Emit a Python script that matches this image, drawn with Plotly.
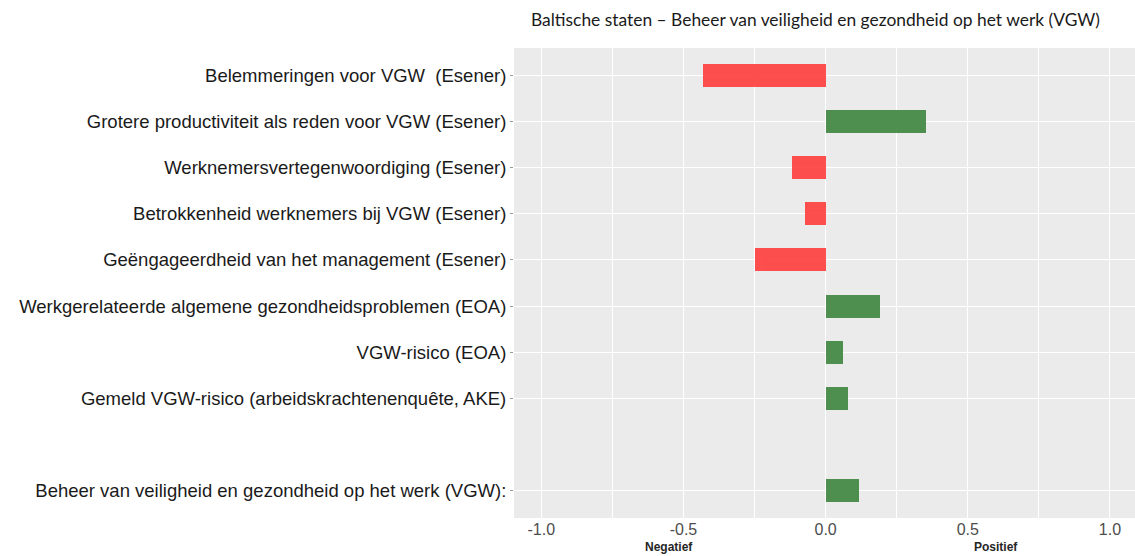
import plotly.graph_objects as go

# Categories from top to bottom; None marks the empty gap row
categories = [
    "Belemmeringen voor VGW  (Esener)",
    "Grotere productiviteit als reden voor VGW (Esener)",
    "Werknemersvertegenwoordiging (Esener)",
    "Betrokkenheid werknemers bij VGW (Esener)",
    "Geëngageerdheid van het management (Esener)",
    "Werkgerelateerde algemene gezondheidsproblemen (EOA)",
    "VGW-risico (EOA)",
    "Gemeld VGW-risico (arbeidskrachtenenquête, AKE)",
    None,
    "Beheer van veiligheid en gezondheid op het werk (VGW):",
]
values = [-0.431, 0.352, -0.118, -0.073, -0.249, 0.192, 0.062, 0.077, None, 0.118]

x_ticks = [-1.0, -0.5, 0.0, 0.5, 1.0]
x_tick_labels = ["-1.0", "-0.5", "0.0", "0.5", "1.0"]

title_text = "Baltische staten – Beheer van veiligheid en gezondheid op het werk (VGW)"
neg_label = "Negatief"
pos_label = "Positief"

RED = "#FF4646"
GREEN = "#468A46"

n = len(categories)
ys, xs, cols, labels = [], [], [], []
for i, (c, v) in enumerate(zip(categories, values)):
    pos = n - 1 - i
    if c is None:
        continue
    ys.append(pos)
    xs.append(v)
    labels.append(c)
    cols.append(RED if v < 0 else GREEN)

fig = go.Figure(
    go.Bar(
        x=xs,
        y=ys,
        orientation="h",
        width=0.5,
        marker=dict(color=cols, line=dict(width=0)),
        opacity=0.95,
        hoverinfo="x+y",
    )
)

L, R, T, B = 514, 0, 48, 38
W, H = 1135, 556
plot_w = W - L - R
plot_h = H - T - B

fig.update_layout(
    width=W,
    height=H,
    margin=dict(l=L, r=R, t=T, b=B, autoexpand=False),
    paper_bgcolor="white",
    plot_bgcolor="#EBEBEB",
    showlegend=False,
    bargap=0,
)
fig.add_annotation(
    text=title_text, xref="paper", yref="paper",
    x=(815 - L) / plot_w, y=1 + (T - 19) / plot_h,
    showarrow=False, xanchor="center", yanchor="middle",
    font=dict(family="Lato", size=17.4, color="#1a1a1a"),
)
fig.add_annotation(
    text="<b>" + neg_label + "</b>", xref="x", yref="paper", x=-0.55, y=-(547 - (H - B)) / plot_h,
    showarrow=False, xanchor="center", yanchor="middle",
    font=dict(family="Liberation Sans", size=12, color="#262626"),
)
fig.add_annotation(
    text="<b>" + pos_label + "</b>", xref="x", yref="paper", x=0.6, y=-(547 - (H - B)) / plot_h,
    showarrow=False, xanchor="center", yanchor="middle",
    font=dict(family="Liberation Sans", size=12, color="#262626"),
)

fig.update_xaxes(
    range=[-1.096, 1.088],
    tickvals=x_ticks,
    ticktext=x_tick_labels,
    showgrid=True,
    gridcolor="white",
    gridwidth=1.2,
    zeroline=False,
    ticks="",
    tickfont=dict(family="Liberation Sans", size=16, color="#4d4d4d"),
    minor=dict(dtick=0.25, tick0=-1.0, showgrid=True, gridcolor="white", gridwidth=0.8),
    showline=False,
    fixedrange=True,
)
fig.update_yaxes(
    range=[-0.6, n - 1 + 0.6],
    tickvals=ys,
    ticktext=labels,
    showgrid=True,
    gridcolor="white",
    gridwidth=1.2,
    zeroline=False,
    ticks="outside",
    ticklen=3,
    tickcolor="#999999",
    tickfont=dict(family="Liberation Sans", size=18.5, color="#1a1a1a"),
    showline=False,
    fixedrange=True,
)

fig.write_html(
    "out.html",
    config={"displayModeBar": False},
    post_script="document.body.style.margin='0';document.body.style.padding='0';",
)
